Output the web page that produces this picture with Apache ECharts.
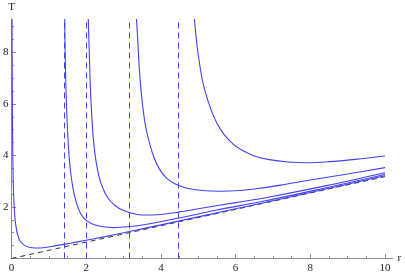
<!DOCTYPE html>
<html>
<head>
<meta charset="utf-8">
<script src="https://cdn.jsdelivr.net/npm/echarts@6/dist/echarts.min.js"></script>
<style>html,body{margin:0;padding:0;background:#fff}#c{width:405px;height:275px}</style>
</head>
<body>
<div id="c"></div>
<script>
// ---- data (r, T) ----
const curve1 = [[0.015,9.3],[0.02,6.9],[0.03,4.6],[0.045,3.1],[0.065,2.2],[0.09,1.62],[0.12,1.25],[0.17,0.9],[0.24,0.66],[0.33,0.53],[0.45,0.45],[0.65,0.41],[0.9,0.43],[1.2,0.5],[1.6,0.6],[2.0,0.71],[2.5,0.85],[3.0,1.0],[3.5,1.15],[4.5,1.46],[6.0,1.93],[8.0,2.56],[10,3.21]];
const curve2 = [[1.425,9.3],[1.44,7.8],[1.46,6.5],[1.49,5.3],[1.53,4.2],[1.58,3.4],[1.65,2.7],[1.74,2.15],[1.85,1.75],[2.0,1.48],[2.2,1.32],[2.45,1.23],[2.75,1.2],[3.1,1.23],[3.5,1.3],[4.47,1.57],[5.5,1.88],[6.8,2.24],[8.4,2.74],[10,3.26]];
const curve3 = [[2.055,9.3],[2.08,8.1],[2.11,6.7],[2.15,5.5],[2.2,4.5],[2.26,3.8],[2.34,3.2],[2.44,2.75],[2.58,2.35],[2.77,2.06],[3.0,1.86],[3.25,1.75],[3.55,1.69],[3.9,1.7],[4.47,1.8],[5.2,1.98],[6.0,2.17],[6.8,2.36],[8.4,2.82],[10,3.33]];
const curve4 = [[3.345,9.3],[3.38,8.5],[3.42,7.4],[3.47,6.5],[3.53,5.7],[3.6,5.05],[3.7,4.45],[3.82,3.9],[3.97,3.45],[4.15,3.12],[4.4,2.88],[4.7,2.73],[5.1,2.64],[5.6,2.61],[6.1,2.64],[6.6,2.72],[7.2,2.85],[8.0,3.05],[9.0,3.28],[10,3.53]];
const curve5 = [[4.895,9.3],[4.95,8.5],[5.0,7.9],[5.1,7.0],[5.2,6.4],[5.35,5.75],[5.5,5.25],[5.7,4.8],[5.95,4.42],[6.2,4.18],[6.5,3.98],[6.9,3.84],[7.4,3.75],[7.9,3.72],[8.5,3.76],[9.2,3.85],[10,3.98]];
const dashedLine = [[0,0],[10,3.18]];
const asymptotes = [1.41, 2.0, 3.14, 4.47];
const xLabels = [0,2,4,6,8,10];
const xMinorTicks = [0.5,1,1.5,2.5,3,3.5,4.5,5,5.5,6.5,7,7.5,8.5,9,9.5];
const xMajorTicks = [2,4,6,8,10];
const yLabels = [2,4,6,8];
const yMinorTicks = [0.5,1,1.5,2.5,3,3.5,4.5,5,5.5,6.5,7,7.5,8.5,9];
const yMajorTicks = [2,4,6,8];

const BLUE = '#4040f8';
const AXIS = '#8c8c8c';
const FONT = {fontFamily:"'Liberation Serif','DejaVu Serif',serif", fontSize:11, color:'#222'};

const chart = echarts.init(document.getElementById('c'));
function blueSeries(d){
  return {type:'line', data:d, showSymbol:false, smooth:0.35, xAxisIndex:0, yAxisIndex:0,
    lineStyle:{color:BLUE, width:1.1}, silent:true};
}
chart.setOption({
  animation:false,
  grid:{left:9, right:12.5, top:19, bottom:16.5, containLabel:false},
  xAxis:[
    {type:'value', min:0, max:10.2, name:'r', nameLocation:'end', nameGap:5,
     nameTextStyle:FONT,
     axisLine:{lineStyle:{color:AXIS, width:1}},
     axisTick:{show:true, inside:true, length:2.5, customValues:xMinorTicks, lineStyle:{color:AXIS}},
     axisLabel:{customValues:xLabels, margin:4, ...FONT},
     splitLine:{show:false}},
    {type:'value', min:0, max:10.2, position:'bottom',
     axisLine:{show:false},
     axisTick:{show:true, inside:true, length:4.5, customValues:xMajorTicks, lineStyle:{color:AXIS}},
     axisLabel:{show:false}, splitLine:{show:false}}
  ],
  yAxis:[
    {type:'value', min:0, max:9.3, name:'T', nameLocation:'end', nameGap:6,
     nameTextStyle:{...FONT, align:'center'},
     axisLine:{lineStyle:{color:AXIS, width:1}},
     axisTick:{show:true, inside:true, length:2.5, customValues:yMinorTicks, lineStyle:{color:AXIS}},
     axisLabel:{customValues:yLabels, margin:3, ...FONT},
     splitLine:{show:false}},
    {type:'value', min:0, max:9.3, position:'left',
     axisLine:{show:false},
     axisTick:{show:true, inside:true, length:4.5, customValues:yMajorTicks, lineStyle:{color:AXIS}},
     axisLabel:{show:false}, splitLine:{show:false}}
  ],
  series:[
    {type:'line', data:dashedLine, showSymbol:false, silent:true,
     lineStyle:{color:'#333', width:1, type:[5,4]},
     markLine:{silent:true, symbol:['none','none'], label:{show:false},
       lineStyle:{color:BLUE, width:1, type:[6,4]},
       data:asymptotes.map(v=>({xAxis:v}))}},
    blueSeries(curve1), blueSeries(curve2), blueSeries(curve3), blueSeries(curve4), blueSeries(curve5)
  ]
});
</script>
</body>
</html>
